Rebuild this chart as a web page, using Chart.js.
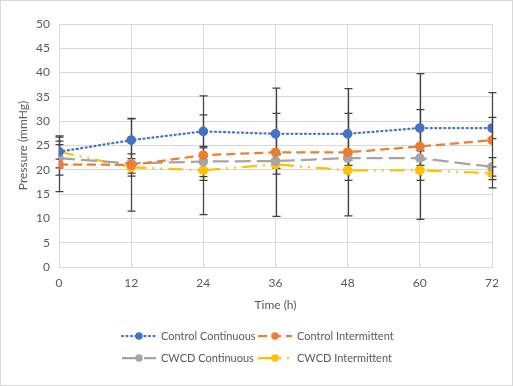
<!DOCTYPE html>
<html>
<head>
<meta charset="utf-8">
<script src="https://cdn.jsdelivr.net/npm/chart.js@4"></script>
<style>
  html, body { margin: 0; padding: 0; background: #fff; }
  #wrap { width: 513px; height: 386px; position: relative; }
</style>
</head>
<body>
<div id="wrap"><canvas id="chart" width="513" height="386"></canvas></div>
<script>
// time points (h)
const hours = [0, 12, 24, 36, 48, 60, 72];

// mean pressure (mmHg) per series
const controlContinuous = [23.7, 26.1, 27.9, 27.4, 27.4, 28.6, 28.6];
const controlIntermittent = [21.1, 21.0, 23.0, 23.6, 23.6, 24.8, 26.1];
const cwcdContinuous = [22.4, 21.3, 21.7, 21.8, 22.4, 22.4, 20.6];
const cwcdIntermittent = [23.7, 20.5, 19.9, 21.1, 19.9, 19.9, 19.3];

// error bar half-lengths (mmHg)
const controlContinuousErr = [3.3, 4.5, 3.4, 4.2, 4.2, 3.8, 2.2];
const controlIntermittentErr = [5.6, 9.5, 12.2, 13.2, 13.1, 15.0, 9.8];
const cwcdContinuousErr = [3.5, 2.0, 3.1, 1.5, 1.5, 1.5, 1.9];
const cwcdIntermittentErr = [1.5, 1.8, 2.1, 2.0, 2.1, 2.1, 1.3];

const yTicks = [0, 5, 10, 15, 20, 25, 30, 35, 40, 45, 50];

const FONT = 'Lato, "Open Sans", sans-serif';
const TEXT = '#595959';

function points(values) {
    return hours.map((h, i) => ({ x: h, y: values[i] }));
}

function series(label, values, errors, color, dash) {
    return {
        label: label,
        data: points(values),
        errors: errors,
        borderColor: color,
        backgroundColor: color,
        pointBackgroundColor: color,
        pointBorderColor: color,
        borderWidth: 2.25,
        borderDash: dash,
        borderCapStyle: dash.length && dash[0] <= 2 ? 'round' : 'butt',
        pointRadius: 3.75,
        pointHoverRadius: 3.75,
        tension: 0,
        fill: false
    };
}

// draws symmetric error bars under the markers
const errorBars = {
    id: 'errorBars',
    beforeDatasetsDraw(chart) {
        const ctx = chart.ctx;
        const xs = chart.scales.x;
        const ys = chart.scales.y;
        ctx.save();
        ctx.strokeStyle = '#404040';
        ctx.lineWidth = 1.25;
        ctx.setLineDash([]);
        chart.data.datasets.forEach(ds => {
            ds.data.forEach((p, i) => {
                const e = ds.errors[i];
                const px = Math.round(xs.getPixelForValue(p.x)) + 0.5;
                const top = ys.getPixelForValue(p.y + e);
                const bot = ys.getPixelForValue(p.y - e);
                ctx.beginPath();
                ctx.moveTo(px, top);
                ctx.lineTo(px, bot);
                ctx.moveTo(px - 4, top);
                ctx.lineTo(px + 4, top);
                ctx.moveTo(px - 4, bot);
                ctx.lineTo(px + 4, bot);
                ctx.stroke();
            });
        });
        ctx.restore();
    }
};

// Excel style legend: line + marker, two columns
const excelLegend = {
    id: 'excelLegend',
    afterDraw(chart) {
        const ctx = chart.ctx;
        const cols = [122, 258];
        const rows = [336, 358];
        ctx.save();
        chart.data.datasets.forEach((ds, i) => {
            const x = cols[i % 2];
            const y = rows[Math.floor(i / 2)];
            ctx.strokeStyle = ds.borderColor;
            ctx.lineWidth = 2.25;
            ctx.lineCap = ds.borderCapStyle;
            ctx.setLineDash(ds.borderDash);
            ctx.beginPath();
            ctx.moveTo(x, y);
            ctx.lineTo(x + 34, y);
            ctx.stroke();
            ctx.setLineDash([]);
            ctx.fillStyle = ds.borderColor;
            ctx.beginPath();
            ctx.arc(x + 17, y, 3.75, 0, Math.PI * 2);
            ctx.fill();
            ctx.fillStyle = TEXT;
            ctx.font = '11px ' + FONT;
            ctx.textBaseline = 'middle';
            ctx.textAlign = 'left';
            ctx.fillText(ds.label, x + 39, y);
        });
        // chart border
        ctx.strokeStyle = '#D9D9D9';
        ctx.lineWidth = 1;
        ctx.strokeRect(0.5, 0.5, chart.width - 1, chart.height - 1);
        ctx.restore();
    }
};

const chart = new Chart(document.getElementById('chart'), {
    type: 'line',
    data: {
        datasets: [
            series('Control Continuous', controlContinuous, controlContinuousErr, '#4472C4', [1, 3.5]),
            series('Control Intermittent', controlIntermittent, controlIntermittentErr, '#ED7D31', [9, 5]),
            series('CWCD Continuous', cwcdContinuous, cwcdContinuousErr, '#A5A5A5', [16, 6]),
            series('CWCD Intermittent', cwcdIntermittent, cwcdIntermittentErr, '#FFC000', [15, 6, 2, 6, 2, 6])
        ]
    },
    options: {
        responsive: false,
        animation: false,
        layout: { padding: { left: 0, right: 21, top: 24, bottom: 74 } },
        plugins: {
            legend: { display: false },
            tooltip: { enabled: false }
        },
        scales: {
            x: {
                type: 'linear',
                min: 0,
                max: 72,
                afterBuildTicks: axis => { axis.ticks = hours.map(v => ({ value: v })); },
                afterFit: axis => { axis.height = 45; },
                grid: { color: '#D9D9D9', lineWidth: 1, drawTicks: false },
                border: { color: '#D9D9D9' },
                ticks: { color: TEXT, font: { family: FONT, size: 12 }, padding: 9, maxRotation: 0 },
                title: { display: true, text: 'Time (h)', color: TEXT, font: { family: FONT, size: 12 }, padding: { top: 6, bottom: 0 } }
            },
            y: {
                min: 0,
                max: 50,
                afterBuildTicks: axis => { axis.ticks = yTicks.map(v => ({ value: v })); },
                afterFit: axis => { axis.width = 59; },
                grid: { color: '#D9D9D9', lineWidth: 1, drawTicks: false },
                border: { display: false },
                ticks: { color: TEXT, font: { family: FONT, size: 12 }, padding: 9 },
                title: { display: true, text: 'Pressure (mmHg)', color: TEXT, font: { family: FONT, size: 12 }, padding: { top: 16, bottom: 4 } }
            }
        }
    },
    plugins: [errorBars, excelLegend]
});
</script>
</body>
</html>
